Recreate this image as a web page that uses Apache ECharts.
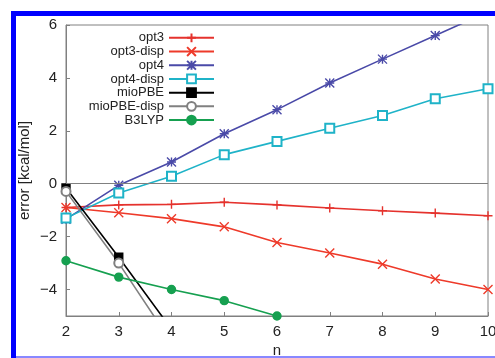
<!DOCTYPE html>
<html>
<head>
<meta charset="utf-8">
<script src="https://cdn.jsdelivr.net/npm/echarts@6/dist/echarts.min.js"></script>
<style>
  html, body { margin: 0; padding: 0; background: #fff; }
  #chart { width: 495px; height: 358px; }
</style>
</head>
<body>
<div id="chart"></div>
<script>
// x values (n) and the error of each method, kcal/mol
const nValues = [2, 3, 4, 5, 6, 7, 8, 9, 10];
const opt3 = [-0.9, -0.8, -0.78, -0.7, -0.8, -0.92, -1.02, -1.11, -1.21];
const opt3Disp = [-0.9, -1.1, -1.32, -1.63, -2.22, -2.62, -3.04, -3.6, -4.0];
const opt4 = [-1.34, -0.06, 0.82, 1.89, 2.8, 3.81, 4.71, 5.6, 6.5];
const opt4Disp = [-1.3, -0.35, 0.28, 1.1, 1.6, 2.1, 2.58, 3.21, 3.59];
const mioPBE = [-0.16, -2.78, -5.5];
const mioPBEDisp = [-0.29, -3.0, -6.0];
const b3lyp = [-2.91, -3.53, -4.0, -4.42, -5.0];
const yTicks = [-4, -2, 0, 2, 4, 6];

const chart = echarts.init(document.getElementById('chart'));

const PLUS = 'path://M0,5L10,5M5,0L5,10';
const CROSS = 'path://M0,0L10,10M10,0L0,10';
const STAR = 'path://M0,0L10,10M10,0L0,10M5,0L5,10M0,5L10,5';

function pairs(ys) {
  return ys.map((y, i) => [nValues[i], y]);
}

function lineSeries(name, ys, color, symbol, size) {
  return {
    name: name,
    type: 'line',
    data: pairs(ys),
    symbol: symbol,
    symbolSize: size,
    showAllSymbol: true,
    lineStyle: { color: color, width: 1.6 },
    itemStyle: { color: color, borderColor: color, borderWidth: 1.4 },
    emphasis: { disabled: true },
    animation: false
  };
}

const series = [
  lineSeries('opt3', opt3, '#e5322d', PLUS, 9),
  lineSeries('opt3-disp', opt3Disp, '#ee3a2a', CROSS, 9),
  lineSeries('opt4', opt4, '#4a4aa8', STAR, 9),
  lineSeries('opt4-disp', opt4Disp, '#1fb3c8', 'emptyRect', 9),
  lineSeries('mioPBE', mioPBE, '#000000', 'rect', 8),
  lineSeries('mioPBE-disp', mioPBEDisp, '#808080', 'emptyCircle', 9),
  lineSeries('B3LYP', b3lyp, '#16a050', 'circle', 8)
];

// zero line
series[0].markLine = {
  silent: true,
  symbol: 'none',
  label: { show: false },
  lineStyle: { color: '#808080', type: 'solid', width: 1 },
  data: [{ yAxis: 0 }],
  animation: false
};

const font = 'Liberation Sans, Arial, sans-serif';
const minus = v => String(v).replace('-', '\u2212');

chart.setOption({
  animation: false,
  graphic: [
    { type: 'rect', shape: { x: 11, y: 11, width: 484, height: 5 }, style: { fill: '#0000ff' } },
    { type: 'rect', shape: { x: 11, y: 11, width: 5, height: 347 }, style: { fill: '#0000ff' } },
    { type: 'rect', shape: { x: 16, y: 356, width: 479, height: 2 }, style: { fill: '#8888ff' } }
  ],
  grid: {
    left: 66, right: 7, top: 25, bottom: 42,
    outerBoundsMode: 'none',
    show: true, borderColor: '#808080', borderWidth: 1
  },
  legend: {
    orient: 'vertical',
    left: 71,
    top: 26,
    align: 'right',
    itemWidth: 45,
    itemHeight: 11,
    itemGap: 0,
    textStyle: { fontFamily: font, fontSize: 13, lineHeight: 13.7, color: '#222', width: 88, align: 'right' },
    data: series.map(s => s.name)
  },
  xAxis: {
    type: 'value',
    min: 2, max: 10, interval: 1,
    name: 'n',
    nameLocation: 'middle',
    nameGap: 27,
    nameMoveOverlap: false,
    nameTextStyle: { fontFamily: font, fontSize: 15, color: '#222' },
    axisLine: { onZero: false, lineStyle: { color: '#808080' } },
    axisTick: { inside: true, length: 4, lineStyle: { color: '#808080' } },
    axisLabel: { fontFamily: font, fontSize: 15, color: '#222', margin: 8 },
    splitLine: { show: false }
  },
  yAxis: {
    type: 'value',
    min: -5, max: 6,
    name: 'error [kcal/mol]',
    nameLocation: 'middle',
    nameGap: 34,
    nameMoveOverlap: false,
    nameTextStyle: { fontFamily: font, fontSize: 15, color: '#222' },
    axisLine: { show: true, lineStyle: { color: '#808080' } },
    axisTick: { inside: true, length: 4, lineStyle: { color: '#808080' }, customValues: yTicks },
    axisLabel: {
      fontFamily: font, fontSize: 15, color: '#222', margin: 9,
      customValues: yTicks,
      formatter: minus
    },
    splitLine: { show: false }
  },
  series: series
});
</script>
</body>
</html>
